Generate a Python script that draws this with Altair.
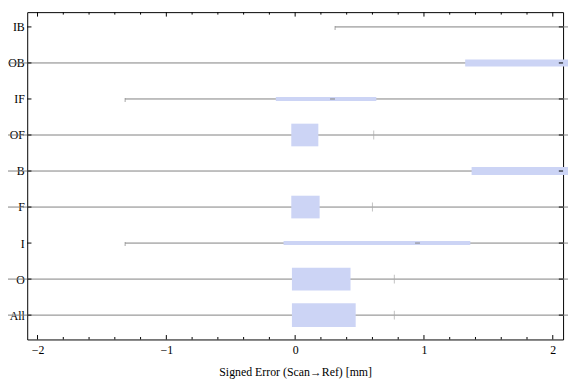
import altair as alt
import pandas as pd

# ---- data ----
categories = ["IB", "OB", "IF", "OF", "B", "F", "I", "O", "All"]
whisker_lo = [0.31, -2.4, -1.32, -2.4, -2.4, -2.4, -1.32, -2.4, -2.4]
whisker_hi = [2.4, 2.4, 2.4, 2.4, 2.4, 2.4, 2.4, 2.4, 2.4]
box_lo = [2.3, 1.32, -0.15, -0.03, 1.37, -0.03, -0.09, -0.025, -0.025]
box_hi = [2.6, 2.6, 0.63, 0.18, 2.6, 0.19, 1.36, 0.43, 0.47]
cap_cats = ["IB", "IF", "I"]
cap_vals = [0.31, -1.32, -1.32]
median_cats = ["IF", "I"]
median_vals = [0.29, 0.95]
mark_cats = ["OF", "F", "O", "All"]
mark_vals = [0.61, 0.60, 0.77, 0.77]
major_ticks = [-2, -1, 0, 1, 2]
minor_ticks = [-1.8, -1.6, -1.4, -1.2, -0.8, -0.6, -0.4, -0.2,
               0.2, 0.4, 0.6, 0.8, 1.2, 1.4, 1.6, 1.8]

# style (box thickness per category, px)
box_thickness = [8, 7, 4, 23, 8, 23, 4, 23, 24]

PAD_L = 19.5
W, H = 543.5, 332
FONT = "Liberation Serif"

df = pd.DataFrame({
    "cat": categories, "wlo": whisker_lo, "whi": whisker_hi,
    "blo": box_lo, "bhi": box_hi, "th": box_thickness,
})
caps = pd.DataFrame({"cat": cap_cats, "v": cap_vals})
meds = pd.DataFrame({"cat": median_cats, "v": median_vals})
mks = pd.DataFrame({"cat": mark_cats, "v": mark_vals})
majors = pd.DataFrame({"v": major_ticks})
minors = pd.DataFrame({"v": minor_ticks})

xscale = alt.Scale(domain=[-2.08, 2.08], nice=False, zero=False)
yscale = alt.Scale(type="point", domain=categories, range=[15, 307.3], padding=0)

X = lambda f: alt.X(f, scale=xscale, axis=alt.Axis(
    values=major_ticks, ticks=False, domain=False, grid=False,
    labelFont=FONT, labelFontSize=12, labelColor="black", labelPadding=5,
    title="Signed Error (Scan\u2192Ref) [mm]", titleFont=FONT, titleFontSize=12,
    titleFontWeight="normal", titleColor="black", titlePadding=12))
Y = alt.Y("cat:N", scale=yscale, sort=categories, axis=alt.Axis(
    ticks=False, domain=False, grid=False, labelFont=FONT, labelFontSize=12,
    labelColor="black", labelPadding=3, title=None))

whisk = alt.Chart(df).mark_rule(color="#808080", strokeWidth=1).encode(
    x=X("wlo:Q"), x2="whi:Q", y=Y)
box = alt.Chart(df).mark_rule(color="#CCD4F5", strokeCap="butt").encode(
    x=X("blo:Q"), x2="bhi:Q", y=Y, strokeWidth=alt.StrokeWidth("th:Q", scale=None))
cap = alt.Chart(caps).mark_tick(color="#808080", thickness=1, size=4, yOffset=1).encode(
    x=X("v:Q"), y=Y)
med = alt.Chart(meds).mark_tick(color="#888888", orient="horizontal", thickness=1.5, size=5).encode(
    x=X("v:Q"), y=Y)
mk = alt.Chart(mks).mark_tick(color="#a8a8a8", thickness=1, size=9).encode(
    x=X("v:Q"), y=Y)

tick_col = "black"
maj_b = alt.Chart(majors).mark_rule(color=tick_col, strokeWidth=1).encode(
    x=X("v:Q"), y=alt.value(H), y2=alt.value(H - 4.5))
maj_t = alt.Chart(majors).mark_rule(color=tick_col, strokeWidth=1).encode(
    x=X("v:Q"), y=alt.value(0), y2=alt.value(4.5))
min_b = alt.Chart(minors).mark_rule(color=tick_col, strokeWidth=1).encode(
    x=X("v:Q"), y=alt.value(H), y2=alt.value(H - 2.5))
min_t = alt.Chart(minors).mark_rule(color=tick_col, strokeWidth=1).encode(
    x=X("v:Q"), y=alt.value(0), y2=alt.value(2.5))
yt_l = alt.Chart(df).mark_rule(color=tick_col, strokeWidth=1).encode(
    y=Y, x=alt.value(0), x2=alt.value(4.3))
yt_r = alt.Chart(df).mark_rule(color=tick_col, strokeWidth=1).encode(
    y=Y, x=alt.value(W - 4.3), x2=alt.value(W))

chart = alt.layer(whisk, box, cap, med, mk, maj_b, maj_t, min_b, min_t, yt_l, yt_r).properties(
    width=W, height=H,
    background="white",
    autosize=alt.AutoSizeParams(type="none"),
    padding={"left": PAD_L, "top": 1.5, "right": 5, "bottom": 45},
).configure_view(stroke="black", strokeWidth=1)

chart.save("out.html", embed_options={"renderer": "svg", "actions": False})
